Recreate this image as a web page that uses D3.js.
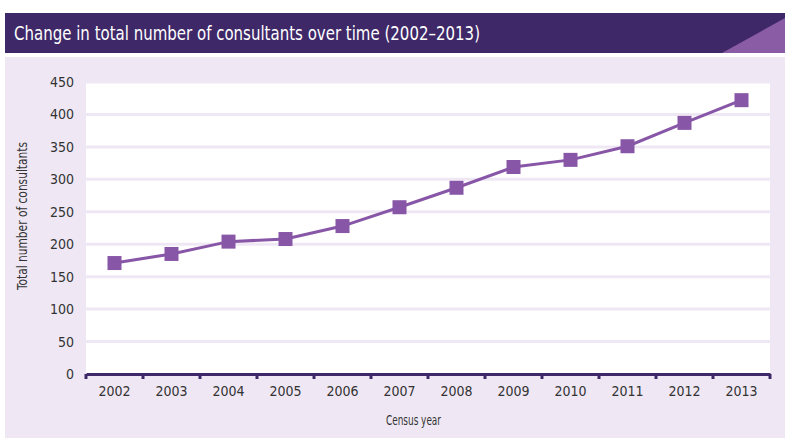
<!DOCTYPE html>
<html>
<head>
<meta charset="utf-8">
<script src="https://cdn.jsdelivr.net/npm/d3@7"></script>
<style>
  body { margin: 0; background: #fff; }
  text { font-family: "DejaVu Sans Condensed", "Liberation Sans Narrow", sans-serif; }
</style>
</head>
<body>
<svg id="chart" width="785" height="438"></svg>
<script>
const years = ["2002", "2003", "2004", "2005", "2006", "2007", "2008", "2009", "2010", "2011", "2012", "2013"];
const consultants = [171, 185, 204, 208, 228, 257, 287, 319, 330, 351, 387, 422];
const yTicks = [0, 50, 100, 150, 200, 250, 300, 350, 400, 450];

const data = years.map((y, i) => ({ year: y, value: consultants[i] }));

const svg = d3.select("#chart");

// header bar
svg.append("rect").attr("x", 5).attr("y", 13).attr("width", 780).attr("height", 40).attr("fill", "#3e2868");
svg.append("path").attr("d", "M722,53 L785,18 L785,53 Z").attr("fill", "#8b5ca6");
svg.append("text")
  .attr("x", 14).attr("y", 40)
  .attr("fill", "#fff")
  .attr("textLength", 466)
  .attr("lengthAdjust", "spacingAndGlyphs")
  .style("font-size", "19px")
  .text("Change in total number of consultants over time (2002\u20132013)");

// light panel
svg.append("rect").attr("x", 5).attr("y", 57).attr("width", 780).attr("height", 381).attr("fill", "#efe8f4");

const margin = { top: 82, right: 15, bottom: 64, left: 86 };
const width = 785 - margin.left - margin.right;
const height = 438 - margin.top - margin.bottom;

const g = svg.append("g").attr("transform", `translate(${margin.left},${margin.top})`);

const x = d3.scaleBand().domain(years).range([0, width]);
const y = d3.scaleLinear().domain([0, 450]).range([height, 0]);

// white plot area
g.append("rect").attr("x", 0).attr("y", 0).attr("width", width).attr("height", height).attr("fill", "#fff");

// gridlines
g.selectAll(".grid")
  .data(yTicks.filter(d => d > 0))
  .enter()
  .append("line")
  .attr("x1", 0).attr("x2", width)
  .attr("y1", d => y(d)).attr("y2", d => y(d))
  .attr("stroke", "#efe8f4")
  .attr("stroke-width", 3);

// y axis
const yAxis = g.append("g").call(d3.axisLeft(y).tickValues(yTicks).tickSize(0).tickPadding(12));
yAxis.select(".domain").remove();
yAxis.selectAll("text").style("font-size", "14px").attr("fill", "#333");

// x axis
const xAxis = g.append("g")
  .attr("transform", `translate(0,${height})`)
  .call(d3.axisBottom(x).tickSize(0).tickPadding(12));
xAxis.select(".domain").attr("stroke", "#3e2868").attr("stroke-width", 3);
xAxis.selectAll("text").style("font-size", "14px").attr("fill", "#333");

// band ticks
g.selectAll(".btick")
  .data(years.concat(["end"]))
  .enter()
  .append("line")
  .attr("x1", (d, i) => i < years.length ? x(d) : width)
  .attr("x2", (d, i) => i < years.length ? x(d) : width)
  .attr("y1", height).attr("y2", height + 5)
  .attr("stroke", "#3e2868")
  .attr("stroke-width", 3);

// axis labels
svg.append("text")
  .attr("x", 386)
  .attr("y", 425)
  .attr("textLength", 55)
  .attr("lengthAdjust", "spacingAndGlyphs")
  .attr("fill", "#333")
  .style("font-size", "14px")
  .text("Census year");

svg.append("text")
  .attr("transform", `translate(27,290) rotate(-90)`)
  .attr("textLength", 148)
  .attr("lengthAdjust", "spacingAndGlyphs")
  .attr("fill", "#333")
  .style("font-size", "14px")
  .text("Total number of consultants");

// line
const line = d3.line()
  .x(d => x(d.year) + x.bandwidth() / 2)
  .y(d => y(d.value));

g.append("path")
  .datum(data)
  .attr("d", line)
  .attr("fill", "none")
  .attr("stroke", "#8856a7")
  .attr("stroke-width", 3);

g.selectAll(".pt")
  .data(data)
  .enter()
  .append("rect")
  .attr("x", d => x(d.year) + x.bandwidth() / 2 - 7)
  .attr("y", d => y(d.value) - 7)
  .attr("width", 14)
  .attr("height", 14)
  .attr("fill", "#8856a7");
</script>
</body>
</html>
